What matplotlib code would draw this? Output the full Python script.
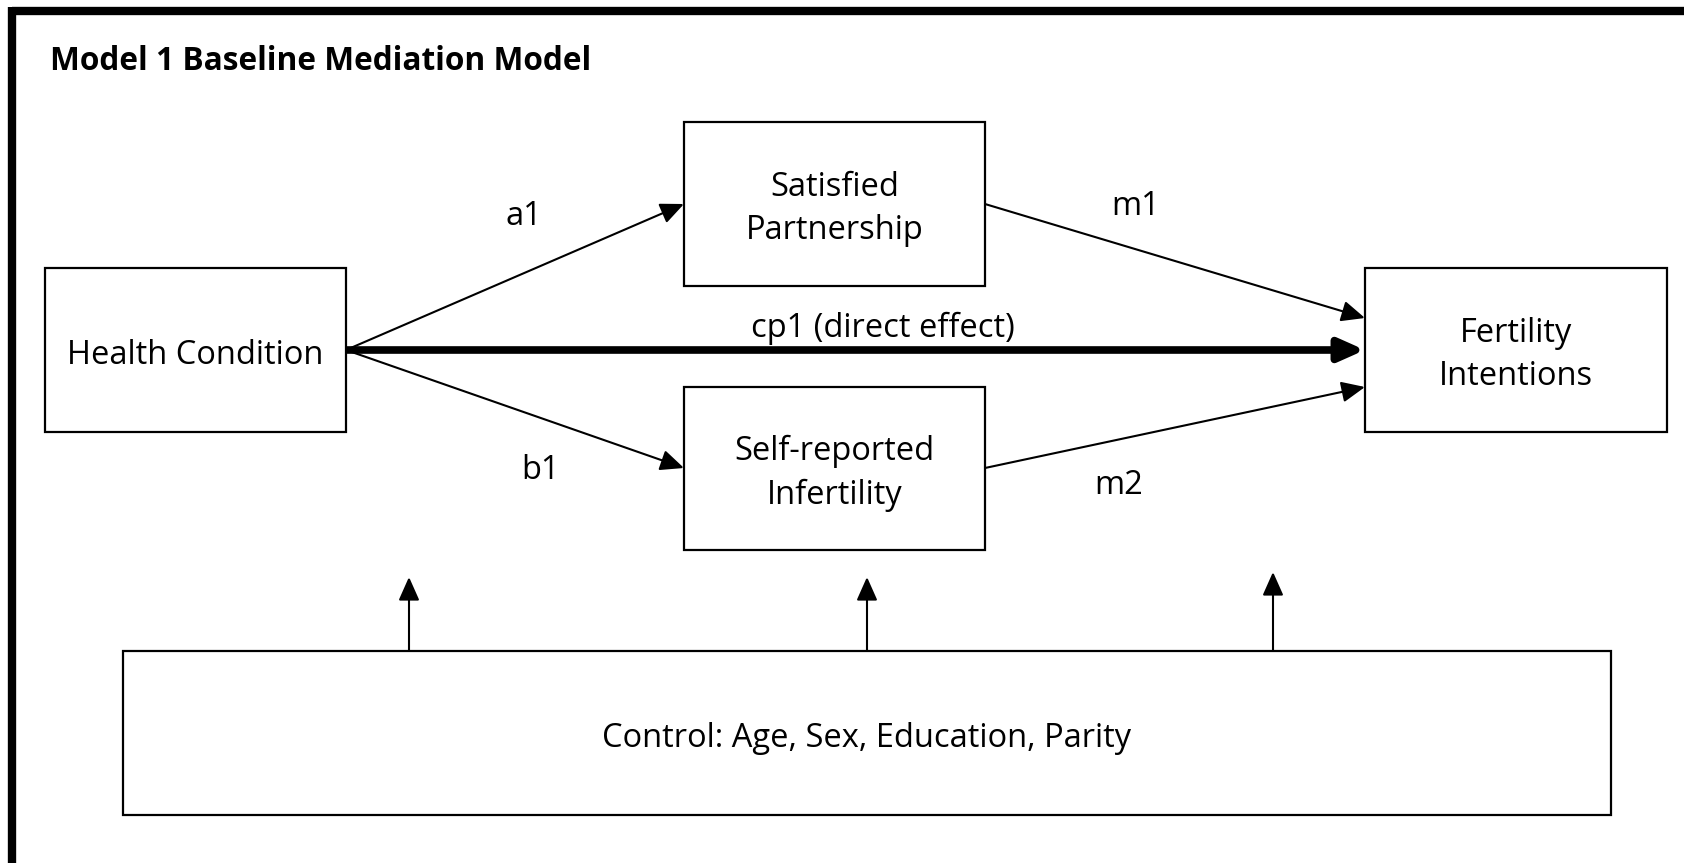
import matplotlib
matplotlib.use("Agg")
import matplotlib.pyplot as plt
from matplotlib.patches import Rectangle, FancyArrowPatch

plt.rcParams['font.family'] = ['Open Sans', 'DejaVu Sans']

# Boxes: label, (x0, y0, x1, y1) in pixel coords of the 1684x863 canvas
box_labels = ["Health Condition", "Satisfied\nPartnership", "Self-reported\nInfertility",
              "Fertility\nIntentions", "Control: Age, Sex, Education, Parity"]
box_coords = [(45, 268, 346, 432), (684, 122, 985, 286), (684, 387, 985, 550),
              (1365, 268, 1667, 432), (123, 651, 1611, 815)]

# Path arrows: start, end, label, label position
path_starts = [(346, 350), (346, 350), (985, 204), (985, 468)]
path_ends = [(684, 204), (684, 468), (1365, 318), (1365, 387)]
path_labels = ["a1", "b1", "m1", "m2"]
label_pos = [(524, 216), (540, 470), (1136, 206), (1119, 485)]

direct_start = (346, 350)
direct_end = (1365, 350)
direct_label = "cp1 (direct effect)"
direct_label_pos = (883, 328)

# Control arrows pointing up
control_x = [409, 867, 1273]
control_tip = [577, 577, 572]
control_base = 651

title = "Model 1 Baseline Mediation Model"

fig = plt.figure(figsize=(16.84, 8.63), dpi=100)
ax = fig.add_axes([0, 0, 1, 1])
ax.set_xlim(0, 1684)
ax.set_ylim(863, 0)
ax.axis('off')

# outer frame (top and left only visible)
ax.plot([12, 1684], [11, 11], color='black', lw=6, solid_capstyle='butt')
ax.plot([12, 12], [7, 863], color='black', lw=6, solid_capstyle='butt')

ax.text(50, 61, title, fontsize=22.8, fontweight='bold', ha='left', va='center')

for lab, (x0, y0, x1, y1) in zip(box_labels, box_coords):
    ax.add_patch(Rectangle((x0, y0), x1 - x0, y1 - y0, fill=False,
                           edgecolor='black', lw=1.6))
    ax.text((x0 + x1) / 2, (y0 + y1) / 2 + 5, lab, fontsize=23.5, ha='center',
            va='center', linespacing=1.42)

def arrow(p0, p1, lw=1.5, scale=16):
    ax.add_patch(FancyArrowPatch(p0, p1, arrowstyle='-|>,head_length=0.9,head_width=0.4',
                                 mutation_scale=scale, lw=lw, color='black',
                                 shrinkA=0, shrinkB=0, capstyle='butt'))

for s, e, lab, lp in zip(path_starts, path_ends, path_labels, label_pos):
    arrow(s, e)
    ax.text(lp[0], lp[1], lab, fontsize=23.5, ha='center', va='center')

arrow(direct_start, direct_end, lw=5.5, scale=17)
ax.text(direct_label_pos[0], direct_label_pos[1], direct_label, fontsize=23.5,
        ha='center', va='center')

for x, tip in zip(control_x, control_tip):
    arrow((x, control_base), (x, tip))

fig.savefig("out.png", dpi=100, facecolor='white')
